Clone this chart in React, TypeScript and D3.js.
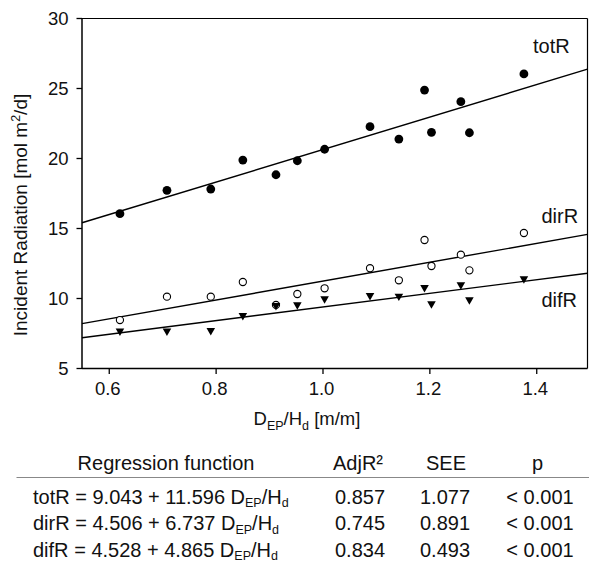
import React from "react";
import * as d3 from "d3";

const xVals = [0.62, 0.708, 0.79, 0.85, 0.912, 0.952, 1.003, 1.088, 1.142, 1.19, 1.203, 1.258, 1.274, 1.376];
const totR = [16.06, 17.73, 17.82, 19.89, 18.84, 19.84, 20.66, 22.27, 21.39, 24.89, 21.87, 24.06, 21.84, 26.04];
const dirR = [8.46, 10.13, 10.13, 11.18, 9.54, 10.32, 10.73, 12.16, 11.3, 14.18, 12.32, 13.13, 12.01, 14.68];
const difR = [7.59, 7.59, 7.63, 8.7, 9.41, 9.46, 9.89, 10.13, 10.08, 10.7, 9.54, 10.89, 9.82, 11.32];

const seriesNames = ["totR", "dirR", "difR"];
const intercepts = [9.043, 4.506, 4.528];
const slopes = [11.596, 6.737, 4.865];
const interceptLabels = ["9.043", "4.506", "4.528"];
const slopeLabels = ["11.596", "6.737", "4.865"];
const adjR2 = ["0.857", "0.745", "0.834"];
const seeVals = ["1.077", "0.891", "0.493"];
const pVals = ["< 0.001", "< 0.001", "< 0.001"];
const tableHeaders = ["Regression function", "AdjR²", "SEE", "p"];

const xTicks = [0.6, 0.8, 1.0, 1.2, 1.4];
const yTicks = [5, 10, 15, 20, 25, 30];
const xDomain = [0.549, 1.495];
const yDomain = [5, 30];

const FONT = "'Liberation Sans', Arial, Helvetica, sans-serif";

export default function App() {
  const left = 82, right = 587.5, top = 18.5, bottom = 368.5;
  const x = d3.scaleLinear().domain(xDomain).range([left, right]);
  const y = d3.scaleLinear().domain(yDomain).range([bottom, top]);
  const fs = 18.5;
  const tfs = 20;

  const regLine = (i: number) =>
    d3.line<number>().x((v) => x(v)).y((v) => y(intercepts[i] + slopes[i] * v))(xDomain);

  const tri = (cx: number, cy: number) => {
    const w = 4.3, h = 7.4;
    return `M${cx - w},${cy - h / 2}L${cx + w},${cy - h / 2}L${cx},${cy + h / 2}Z`;
  };

  const labelPos = [
    { x: 533, y: 53 },
    { x: 541.5, y: 222.5 },
    { x: 541.5, y: 306.5 },
  ];

  const headerX = [166, 358, 446, 537.5];
  const rowY = [503.5, 530, 556.5];

  return (
    <svg
      width={589}
      height={563}
      style={{ position: "absolute", left: 0, top: 0, background: "#fff" }}
      fontFamily={FONT}
    >
      <rect x={0} y={0} width={589} height={563} fill="#fff" />
      {/* frame */}
      <line x1={left} x2={right} y1={top} y2={top} stroke="#000" strokeWidth={1.2} />
      <line x1={right} x2={right} y1={top} y2={bottom} stroke="#000" strokeWidth={1.2} />
      <line x1={left} x2={left} y1={top} y2={bottom} stroke="#000" strokeWidth={1.5} />
      <line x1={left} x2={right} y1={bottom} y2={bottom} stroke="#000" strokeWidth={1.5} />

      {/* y ticks */}
      {yTicks.map((t) => (
        <g key={"y" + t}>
          <line x1={left - 5.5} x2={left} y1={y(t)} y2={y(t)} stroke="#000" strokeWidth={1.3} />
          <text x={68.5} y={y(t) + 6.5} textAnchor="end" fontSize={fs} fill="#111">
            {t}
          </text>
        </g>
      ))}
      {/* x ticks */}
      {xTicks.map((t) => (
        <g key={"x" + t}>
          <line x1={x(t)} x2={x(t)} y1={bottom} y2={bottom + 5.5} stroke="#000" strokeWidth={1.3} />
          <text x={x(t) - 1.5} y={395} textAnchor="middle" fontSize={fs} fill="#111">
            {d3.format(".1f")(t)}
          </text>
        </g>
      ))}

      {/* axis titles */}
      <text transform="translate(26.5,215) rotate(-90)" textAnchor="middle" fontSize={19} fill="#111">
        Incident Radiation [mol m
        <tspan dy={-7} fontSize={12.5}>2</tspan>
        <tspan dy={7}>/d]</tspan>
      </text>
      <text x={253.5} y={425} fontSize={fs} fill="#111">
        D<tspan dy={5} fontSize={12.5}>EP</tspan>
        <tspan dy={-5}>/H</tspan>
        <tspan dy={5} fontSize={12.5}>d</tspan>
        <tspan dy={-5}> [m/m]</tspan>
      </text>

      {/* regression lines */}
      {seriesNames.map((n, i) => (
        <path key={"l" + n} d={regLine(i) || ""} fill="none" stroke="#000" strokeWidth={1.4} />
      ))}

      {/* points */}
      {xVals.map((v, i) => (
        <circle key={"t" + i} cx={x(v)} cy={y(totR[i])} r={4.4} fill="#000" />
      ))}
      {xVals.map((v, i) => (
        <circle key={"d" + i} cx={x(v)} cy={y(dirR[i])} r={3.6} fill="#fff" stroke="#000" strokeWidth={1.1} />
      ))}
      {xVals.map((v, i) => (
        <path key={"f" + i} d={tri(x(v), y(difR[i]))} fill="#000" />
      ))}

      {/* series labels */}
      {seriesNames.map((n, i) => (
        <text key={"lab" + n} x={labelPos[i].x} y={labelPos[i].y} fontSize={20} fill="#111">
          {n}
        </text>
      ))}

      {/* table */}
      {tableHeaders.map((h, j) => (
        <text key={"h" + j} x={headerX[j]} y={470} textAnchor="middle" fontSize={tfs} fill="#111">
          {h}
        </text>
      ))}
      <line x1={16.5} x2={589} y1={477.5} y2={477.5} stroke="#888" strokeWidth={1.2} />
      {seriesNames.map((n, i) => (
        <g key={"row" + n}>
          <text x={33} y={rowY[i]} fontSize={tfs} fill="#111">
            {n} = {interceptLabels[i]} + {slopeLabels[i]} D
            <tspan dy={3.5} fontSize={12.5}>EP</tspan>
            <tspan dy={-3.5}>/H</tspan>
            <tspan dy={3.5} fontSize={12.5}>d</tspan>
          </text>
          <text x={360} y={rowY[i]} textAnchor="middle" fontSize={tfs} fill="#111">{adjR2[i]}</text>
          <text x={445} y={rowY[i]} textAnchor="middle" fontSize={tfs} fill="#111">{seeVals[i]}</text>
          <text x={540} y={rowY[i]} textAnchor="middle" fontSize={tfs} fill="#111">{pVals[i]}</text>
        </g>
      ))}
    </svg>
  );
}
